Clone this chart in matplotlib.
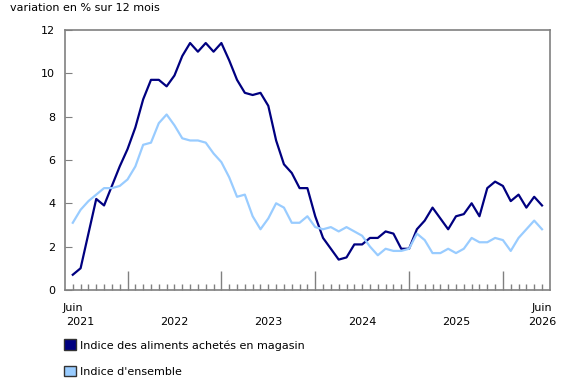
import numpy as np
import matplotlib
matplotlib.use("Agg")
import matplotlib.pyplot as plt
from matplotlib.patches import Patch

# monthly, June 2021 to June 2026
aliments = [0.7, 1.0, 2.6, 4.2, 3.9, 4.8, 5.7, 6.5, 7.5, 8.8,
            9.7, 9.7, 9.4, 9.9, 10.8, 11.4, 11.0, 11.4, 11.0, 11.4,
            10.6, 9.7, 9.1, 9.0, 9.1, 8.5, 6.9, 5.8, 5.4, 4.7,
            4.7, 3.4, 2.4, 1.9, 1.4, 1.5, 2.1, 2.1, 2.4, 2.4,
            2.7, 2.6, 1.9, 1.9, 2.8, 3.2, 3.8, 3.3, 2.8, 3.4,
            3.5, 4.0, 3.4, 4.7, 5.0, 4.8, 4.1, 4.4, 3.8, 4.3,
            3.9]
ensemble = [3.1, 3.7, 4.1, 4.4, 4.7, 4.7, 4.8, 5.1, 5.7, 6.7,
            6.8, 7.7, 8.1, 7.6, 7.0, 6.9, 6.9, 6.8, 6.3, 5.9,
            5.2, 4.3, 4.4, 3.4, 2.8, 3.3, 4.0, 3.8, 3.1, 3.1,
            3.4, 2.9, 2.8, 2.9, 2.7, 2.9, 2.7, 2.5, 2.0, 1.6,
            1.9, 1.8, 1.8, 1.9, 2.6, 2.3, 1.7, 1.7, 1.9, 1.7,
            1.9, 2.4, 2.2, 2.2, 2.4, 2.3, 1.8, 2.4, 2.8, 3.2,
            2.8]
annees = ["2022", "2023", "2024", "2025"]

dark = "#000080"
light = "#99ccff"
grey = "#808080"

x = np.arange(len(aliments))

fig = plt.figure(figsize=(5.8, 3.85), dpi=100)
ax = fig.add_axes([0.112, 0.247, 0.836, 0.675])

ax.plot(x, aliments, color=dark, lw=1.6)
ax.plot(x, ensemble, color=light, lw=1.6)

ax.set_xlim(-1, 61)
ax.set_ylim(0, 12)
ax.set_yticks(range(0, 13, 2))
ax.tick_params(axis="y", direction="in", length=5, color=grey, labelsize=8, pad=7)

ax.set_xticks(x[7::12])
ax.set_xticks(x, minor=True)
ax.set_xticklabels([])
ax.tick_params(axis="x", which="major", direction="in", length=14, color=grey, width=1)
ax.tick_params(axis="x", which="minor", direction="in", length=4, color=grey, width=1)

for s in ax.spines.values():
    s.set_color(grey)
    s.set_linewidth(1.2)

tr = ax.get_xaxis_transform()
ax.text(0, -0.05, "Juin", transform=tr, ha="center", va="top", fontsize=8)
ax.text(1, -0.106, "2021", transform=tr, ha="center", va="top", fontsize=8)
ax.text(60, -0.05, "Juin", transform=tr, ha="center", va="top", fontsize=8)
ax.text(60, -0.106, "2026", transform=tr, ha="center", va="top", fontsize=8)
for i, a in enumerate(annees):
    ax.text(13 + 12 * i, -0.106, a, transform=tr, ha="center", va="top", fontsize=8)

fig.text(0.017, 0.98, "variation en % sur 12 mois", fontsize=8, va="center")

handles = [Patch(facecolor=dark, edgecolor="#333333", label="Indice des aliments achetés en magasin"),
           Patch(facecolor=light, edgecolor="#333333", label="Indice d'ensemble")]
fig.legend(handles=handles, loc="upper left", bbox_to_anchor=(0.102, 0.13),
           frameon=False, fontsize=8, handlelength=1.1, handleheight=1.1,
           handletextpad=0.4, labelspacing=1.35, borderaxespad=0)

fig.savefig("out.png", dpi=100)
